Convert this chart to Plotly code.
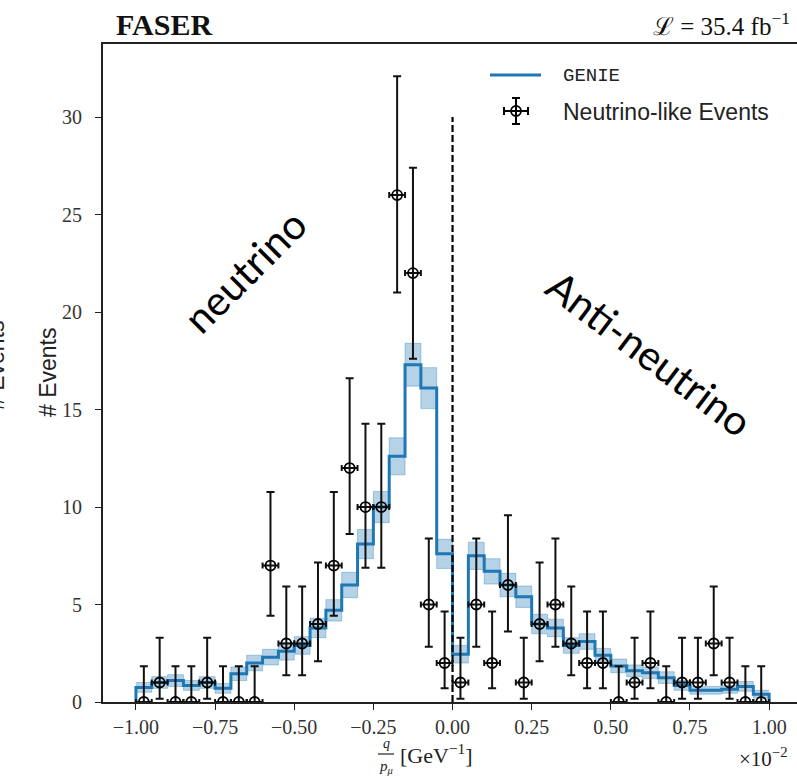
import plotly.graph_objects as go

# ---------------- data ----------------
bin_edges = [round(-1.0 + 0.05 * i, 3) for i in range(41)]
bin_centers = [round((bin_edges[i] + bin_edges[i + 1]) / 2, 4) for i in range(40)]

genie = [0.75, 1.0, 1.1, 0.85, 1.0, 0.7, 1.45, 2.0, 2.3, 2.6,
         2.9, 3.8, 4.7, 6.0, 8.1, 10.0, 12.6, 17.3, 16.1, 7.6,
         2.45, 7.5, 6.7, 6.0, 5.4, 4.0, 3.8, 2.9, 3.1, 2.4,
         1.85, 1.6, 1.5, 1.25, 0.85, 0.6, 0.6, 0.65, 0.8, 0.4]
genie_unc = [0.25, 0.3, 0.3, 0.25, 0.3, 0.25, 0.35, 0.4, 0.4, 0.45,
             0.45, 0.5, 0.55, 0.65, 0.75, 0.8, 0.95, 1.1, 1.05, 0.75,
             0.45, 0.7, 0.65, 0.6, 0.55, 0.5, 0.45, 0.4, 0.4, 0.35,
             0.35, 0.3, 0.3, 0.3, 0.25, 0.2, 0.2, 0.2, 0.25, 0.2]

counts = [0, 1, 0, 0, 1, 0, 0, 0, 7, 3,
          3, 4, 7, 12, 10, 10, 26, 22, 5, 2,
          1, 5, 2, 6, 1, 4, 5, 3, 2, 2,
          0, 1, 2, 0, 1, 1, 3, 1, 0, 0]
err_up = [1.84, 2.30, 1.84, 1.84, 2.30, 1.84, 1.84, 1.84, 3.77, 2.92,
          2.92, 3.16, 3.77, 4.60, 4.27, 4.27, 6.10, 5.40, 3.38, 2.64,
          2.30, 3.38, 2.64, 3.58, 2.30, 3.16, 3.38, 2.92, 2.64, 2.64,
          1.84, 2.30, 2.64, 1.84, 2.30, 2.30, 2.92, 2.30, 1.84, 1.84]
err_dn = [0.0, 0.83, 0.0, 0.0, 0.83, 0.0, 0.0, 0.0, 2.58, 1.63,
          1.63, 1.91, 2.58, 3.38, 3.11, 3.11, 5.0, 4.4, 2.16, 1.29,
          0.83, 2.16, 1.29, 2.38, 0.83, 1.91, 2.16, 1.63, 1.29, 1.29,
          0.0, 0.83, 1.29, 0.0, 0.83, 0.83, 1.63, 0.83, 0.0, 0.0]

x_ticks = [-1.0, -0.75, -0.5, -0.25, 0.0, 0.25, 0.5, 0.75, 1.0]
y_ticks = [0, 5, 10, 15, 20, 25, 30]

BLUE = "#1f77b4"

# step outline helpers (closed to zero at both ends like a matplotlib step hist)
step_x = [bin_edges[0]] + bin_edges[:-1] + [bin_edges[-1], bin_edges[-1]]
step_y = [0] + genie + [genie[-1], 0]
band_x = bin_edges[:-1] + [bin_edges[-1]]
band_lo = [v - e for v, e in zip(genie, genie_unc)]
band_hi = [v + e for v, e in zip(genie, genie_unc)]
band_lo = band_lo + [band_lo[-1]]
band_hi = band_hi + [band_hi[-1]]

fig = go.Figure()

fig.add_trace(go.Scatter(x=band_x, y=band_lo, mode="lines", line_shape="hv",
                         line=dict(color="rgba(31,119,180,0.35)", width=1),
                         showlegend=False, hoverinfo="skip"))
fig.add_trace(go.Scatter(x=band_x, y=band_hi, mode="lines", line_shape="hv",
                         line=dict(color="rgba(31,119,180,0.35)", width=1),
                         fill="tonexty", fillcolor="rgba(31,119,180,0.33)",
                         showlegend=False, hoverinfo="skip"))
fig.add_trace(go.Scatter(x=step_x, y=step_y, mode="lines", line_shape="hv",
                         line=dict(color=BLUE, width=3), name="GENIE",
                         showlegend=False))

fig.add_trace(go.Scatter(
    x=bin_centers, y=counts, mode="markers", name="Neutrino-like Events",
    marker=dict(symbol="circle-open", size=10, color="black", line=dict(width=1.8, color="black")),
    error_y=dict(type="data", symmetric=False, array=err_up, arrayminus=err_dn,
                 color="#111", thickness=2, width=4),
    error_x=dict(type="constant", value=0.025, color="#111", thickness=2, width=3),
    showlegend=False))

# dashed separator at q/p = 0
fig.add_shape(type="line", xref="x", yref="y", x0=0, x1=0, y0=0, y1=30,
              line=dict(color="black", width=2.2, dash="7px,3px"))

L, R, T, B = 103, 797, 44, 702
W, H = R - L, B - T


def px(xp):
    return (xp - L) / W


def py(yp):
    return (B - yp) / H


# manual legend
fig.add_shape(type="line", xref="paper", yref="paper", x0=px(490), x1=px(541),
              y0=py(75), y1=py(75), line=dict(color=BLUE, width=3))
for (x0, y0, x1, y1) in [(516, 98, 516, 124), (504, 111, 528, 111),
                         (512, 98, 520, 98), (512, 124, 520, 124),
                         (504, 107, 504, 115), (528, 107, 528, 115)]:
    fig.add_shape(type="line", xref="paper", yref="paper", x0=px(x0), x1=px(x1),
                  y0=py(y0), y1=py(y1), line=dict(color="black", width=2))
fig.add_shape(type="circle", xref="paper", yref="paper", x0=px(511), x1=px(521),
              y0=py(116), y1=py(106), line=dict(color="black", width=1.8))

ann = []
ann.append(dict(text="GENIE", x=px(561), y=py(76), xanchor="left", yanchor="middle",
                font=dict(family="Liberation Mono", size=19, color="#222")))
ann.append(dict(text="Neutrino-like Events", x=px(561), y=py(112), xanchor="left", yanchor="middle",
                font=dict(family="Liberation Sans", size=23, color="#222")))
ann.append(dict(text="<b>FASER</b>", x=px(114), y=py(24), xanchor="left", yanchor="middle",
                font=dict(family="Liberation Serif", size=30, color="#111")))
ann.append(dict(text="ℒ = 35.4 fb<sup>−1</sup>", x=px(792), y=py(24), xanchor="right", yanchor="middle",
                font=dict(family="Liberation Serif", size=25, color="#111")))
ann.append(dict(text="neutrino", x=px(244), y=py(271), xanchor="center", yanchor="middle",
                textangle=-45, font=dict(family="Lato", size=41, color="black")))
ann.append(dict(text="Anti-neutrino", x=px(650), y=py(353), xanchor="center", yanchor="middle",
                textangle=37, font=dict(family="Lato", size=41, color="black")))
ann.append(dict(text="# Events", x=px(48), y=py(372), xanchor="center", yanchor="middle",
                textangle=-90, font=dict(family="Liberation Sans", size=23, color="#222")))
ann.append(dict(text="# Events", x=px(-4), y=py(365), xanchor="center", yanchor="middle",
                textangle=-90, font=dict(family="Liberation Sans", size=23, color="#222")))
# x-axis title: q / p_mu [GeV^-1]
ann.append(dict(text="<i>q</i>", x=px(386), y=py(743), xanchor="center", yanchor="middle",
                font=dict(family="Liberation Serif", size=14, color="#222")))
ann.append(dict(text="<i>p</i><sub><i>μ</i></sub>", x=px(386), y=py(767), xanchor="center", yanchor="middle",
                font=dict(family="Liberation Serif", size=15, color="#222")))
ann.append(dict(text="[GeV<sup>−1</sup>]", x=px(398), y=py(754), xanchor="left", yanchor="middle",
                font=dict(family="Liberation Serif", size=22, color="#222")))
ann.append(dict(text="×10<sup>−2</sup>", x=px(737), y=py(757), xanchor="left", yanchor="middle",
                font=dict(family="Liberation Serif", size=21, color="#222")))
for a in ann:
    a.update(xref="paper", yref="paper", showarrow=False)
fig.add_shape(type="line", xref="paper", yref="paper", x0=px(378), x1=px(394),
              y0=py(754), y1=py(754), line=dict(color="#222", width=1.2))

fig.update_layout(
    width=797, height=778,
    margin=dict(l=L, r=797 - R, t=T, b=778 - B, pad=0),
    paper_bgcolor="white", plot_bgcolor="white",
    annotations=ann, showlegend=False,
    font=dict(family="Liberation Serif", size=20, color="#222"),
    xaxis=dict(range=[-1.104, 1.088], tickvals=x_ticks, tickformat=".2f",
               showgrid=False, zeroline=False, showline=True, mirror=True,
               linecolor="#222", linewidth=1.8, ticks="outside", ticklen=6,
               tickwidth=1.3, tickcolor="#222",
               tickfont=dict(family="Liberation Serif", size=20, color="#333")),
    yaxis=dict(range=[0, 33.75], tickvals=y_ticks, showgrid=False, zeroline=False,
               showline=True, mirror=False, linecolor="#222", linewidth=1.8,
               ticks="outside", ticklen=6, tickwidth=1.3, tickcolor="#222",
               ticklabelstandoff=9,
               tickfont=dict(family="Liberation Serif", size=20, color="#333")),
)

fig.write_html("out.html")
